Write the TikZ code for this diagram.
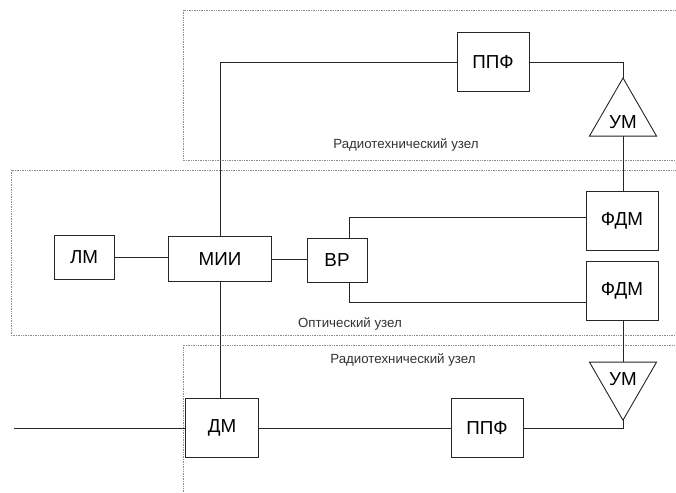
\documentclass[tikz,border=0pt]{standalone}
\usepackage{fontspec}
\setmainfont{Liberation Sans}
\usetikzlibrary{shapes.geometric}

\begin{document}
\begin{tikzpicture}[x=1pt, y=-1pt,
  blk/.style={draw=black!85, line width=0.9pt, inner sep=0pt, minimum width=72pt, minimum height=59pt, font=\fontsize{18.8}{20}\selectfont},
  amp/.style={draw=black!85, line width=0.9pt, regular polygon, regular polygon sides=3, minimum size=77.4pt, inner sep=0pt, outer sep=0pt},
  ampt/.style={font=\fontsize{18.8}{20}\selectfont},
  zone/.style={draw=black!45, densely dotted, line width=0.7pt},
  zonet/.style={font=\fontsize{13.3}{15}\selectfont, text=black!80},
  wire/.style={draw=black!85, line width=0.9pt}]
\clip (0,0) rectangle (676,492);
\fill[white] (0,0) rectangle (676,492);
%
\draw [zone] (183,10) rectangle (700,160);
\draw [zone] (11,170) rectangle (700,335);
\draw [zone] (183,345) rectangle (700,520);
\node [zonet] (lbltop) at (406,145) {Радиотехнический узел};
\node [zonet] (lblopt) at (350,324) {Оптический узел};
\node [zonet] (lblbot) at (403,360) {Радиотехнический узел};
%
\node [blk] (ppf1) at (493,62) {ППФ};
\node [amp] (um1) at (623,116.7) {};
\node [ampt] (um1t) at (623,122) {УМ};
\node [blk, minimum width=60pt, minimum height=44pt] (lm) at (84,257) {ЛМ};
\node [blk, minimum width=103pt, minimum height=45pt] (mii) at (220,259) {МИИ};
\node [blk, minimum width=60pt, minimum height=44pt] (vr) at (337,260) {ВР};
\node [blk] (fdm1) at (622,221) {ФДМ};
\node [blk] (fdm2) at (622,291) {ФДМ};
\node [blk, minimum width=73pt] (dm) at (222,428) {ДМ};
\node [blk] (ppf2) at (487,428) {ППФ};
\node [amp, shape border rotate=180] (um2) at (623,381.5) {};
\node [ampt] (um2t) at (623,379) {УМ};
\coordinate (in) at (14,428);
%
\draw [wire] (mii.north) |- (ppf1.west);
\draw [wire] (ppf1.east) -| (um1.north);
\draw [wire] (um1.south) -- (um1.south |- fdm1.north);
\draw [wire] (lm.east) -- (lm.east -| mii.west);
\draw [wire] (mii.east) -- (mii.east -| vr.west);
\draw [wire] ([xshift=12pt]vr.north) |- ([yshift=4pt]fdm1.west);
\draw [wire] ([xshift=12pt]vr.south) |- ([yshift=-11pt]fdm2.west);
\draw [wire] (fdm2.south -| um2.north) -- (um2.north);
\draw [wire] (mii.south) -- (mii.south |- dm.north);
\draw [wire] (in) -- (dm.west);
\draw [wire] (dm.east) -- (ppf2.west);
\draw [wire] (ppf2.east) -| (um2.south);
%%%%%%%%%%%%%%%%%%%%%%%%%%%%%%%
\end{tikzpicture}
\end{document}
